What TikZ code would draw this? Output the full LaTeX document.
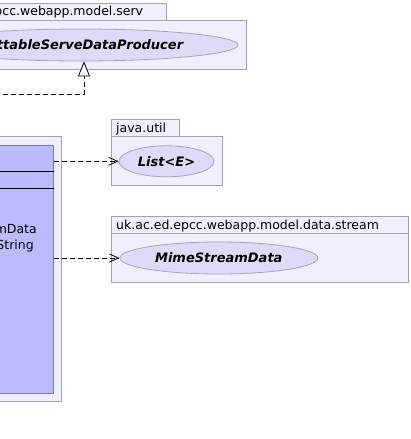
\documentclass[tikz,border=0pt]{standalone}
\usepackage{fontspec}
\setmainfont{DejaVu Sans}[ItalicFont={DejaVu Sans Oblique},BoldFont={DejaVu Sans Bold},BoldItalicFont={DejaVu Sans Bold Oblique}]
\usetikzlibrary{arrows.meta,shapes.geometric}
\definecolor{pkgfill}{HTML}{EFEFFF}
\definecolor{pkgline}{HTML}{A2A2B6}
\definecolor{clsfill}{HTML}{BBBBFF}
\definecolor{clsline}{HTML}{7A7AAE}
\definecolor{ifacefill}{HTML}{DCDCF8}
\definecolor{ifaceline}{HTML}{A4A4BA}
\begin{document}
\begin{tikzpicture}[x=1pt,y=-1pt,
    pkg/.style={draw=pkgline,fill=pkgfill,line width=1pt},
    pkglabel/.style={inner sep=0pt,font=\fontsize{12.5}{15}\selectfont},
    iface/.style={ellipse,draw=ifaceline,fill=ifacefill,line width=0.8pt,inner sep=0pt,
      font=\fontsize{13}{15}\selectfont\bfseries\itshape},
    dep/.style={dash pattern=on 5pt off 3pt,line width=0.8pt,
      -{Straight Barb[length=9pt,width=8pt,line width=0.8pt]}},
    impl/.style={dash pattern=on 5pt off 3pt,line width=0.8pt,
      -{Triangle[open,length=15pt,width=12pt,fill=white,line width=0.8pt]}}]
  \useasboundingbox (0,0) rectangle (411,439);
  \clip (0,0) rectangle (411,439);

  % package uk.ac.ed.epcc.webapp.model.serv
  \draw[pkg] (-300,3) rectangle (166,20);
  \draw[pkg] (-300,20) rectangle (246.5,69);
  \node[pkglabel,anchor=base east] (servlabel) at (143.3,15.5) {uk.ac.ed.epcc.webapp.model.serv};
  \node[iface,minimum width=314pt,minimum height=32pt] (serv) at (81,45) {SettableServeDataProducer};

  % package java.util
  \draw[pkg] (111.3,119.3) rectangle (179,136);
  \draw[pkg] (111.3,136) rectangle (222,185);
  \node[pkglabel,anchor=base west] (utillabel) at (116,132.5) {java.util};
  \node[iface,minimum width=95pt,minimum height=31pt] (list) at (166.5,161.3) {List<E>};

  % package uk.ac.ed.epcc.webapp.model.data.stream
  \draw[pkg] (111.7,216) rectangle (408,233.3);
  \draw[pkg] (111.7,233.3) rectangle (408,282);
  \node[pkglabel,anchor=base west] (streamlabel) at (116,229) {uk.ac.ed.epcc.webapp.model.data.stream};
  \node[iface,minimum width=198pt,minimum height=32pt] (stream) at (218.8,258) {MimeStreamData};

  % the class and its package
  \draw[pkg] (-300,136.7) rectangle (61.7,401);
  \node[draw=clsline,fill=clsfill,line width=1pt,minimum width=400pt,minimum height=248pt,
    inner sep=0pt] (cls) at (-146.7,269) {};
  \draw[line width=1pt] (cls.west |- 0,171.3) -- (cls.east |- 0,171.3)
    (cls.west |- 0,188.7) -- (cls.east |- 0,188.7);
  \node[pkglabel,anchor=base east] (opa) at (37,233) {mData};
  \node[pkglabel,anchor=base east] (opb) at (34,249) {String};

  % connectors
  \coordinate (implsrc) at (-5,94);
  \draw[impl] (implsrc) -| ([xshift=3pt]serv.south);
  \draw[dep] (cls.east |- list) -- (list);
  \draw[dep] (cls.east |- stream) -- (stream);
\end{tikzpicture}
\end{document}
